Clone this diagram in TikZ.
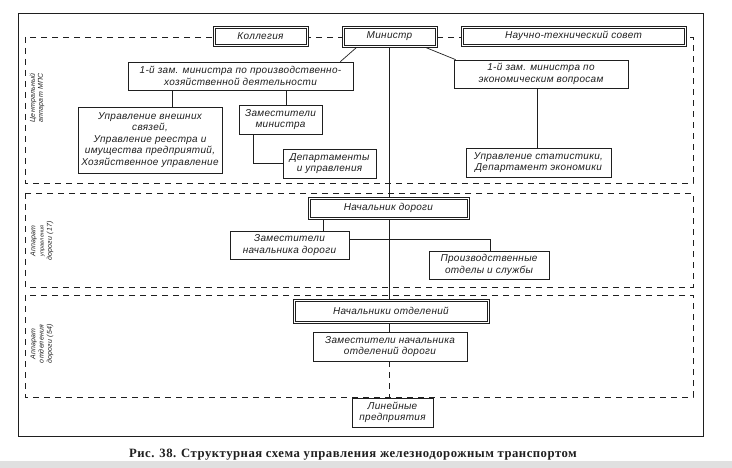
\documentclass[tikz,border=0pt]{standalone}
\usepackage{fontspec}
\setmainfont{Liberation Serif}
\newfontfamily\boxfont[LetterSpace=3]{Liberation Sans}
\newfontfamily\capfont[LetterSpace=4]{Liberation Serif}
\pgfdeclarelayer{bg}
\pgfsetlayers{bg,main}
\definecolor{ink}{gray}{0.12}
\begin{document}
\begin{tikzpicture}[x=1pt,y=-1pt,
 lbl/.style={font=\boxfont\itshape\fontsize{10}{11.5}\selectfont, align=center, inner sep=0pt, text=ink},
 box/.style={lbl, draw=ink, line width=0.7pt, fill=white, rectangle},
 dbox/.style={box},
 region/.style={draw=ink, line width=0.7pt, dash pattern=on 6pt off 5pt},
 link/.style={draw=ink, line width=0.7pt},
 side/.style={font=\boxfont\itshape\fontsize{7}{8.2}\selectfont, align=center, rotate=90, inner sep=0pt, text=ink},
]
\useasboundingbox (0,0) rectangle (732,468);

% boxes
\node[dbox, minimum width=95pt, minimum height=20pt] (koll) at (260.5,36.5) {Коллегия};
\node[dbox, minimum width=95pt, minimum height=21pt] (min) at (389.5,36.5) {Министр};
\node[dbox, minimum width=225pt, minimum height=20pt] (nts) at (573.5,36) {Научно-технический совет};
\node[box, minimum width=225pt, minimum height=28pt] (zam1) at (240.5,76) {1-й зам. министра по производственно-\\хозяйственной деятельности};
\node[box, minimum width=174pt, minimum height=28pt] (zam2) at (541,74) {1-й зам. министра по\\экономическим вопросам};
\node[box, minimum width=144pt, minimum height=66pt] (upr) at (150,140) {Управление внешних\\связей,\\Управление реестра и\\имущества предприятий,\\Хозяйственное управление};
\node[box, minimum width=83pt, minimum height=29pt] (zm) at (280.5,119.5) {Заместители\\министра};
\node[box, minimum width=93pt, minimum height=29pt] (dep) at (329.5,163.5) {Департаменты\\и управления};
\node[box, minimum width=145pt, minimum height=29pt] (stat) at (538.5,162.5) {Управление статистики,\\Департамент экономики};
\node[dbox, minimum width=161pt, minimum height=22pt] (nd) at (388.5,208) {Начальник дороги};
\node[box, minimum width=119pt, minimum height=28pt] (znd) at (289.5,245) {Заместители\\начальника дороги};
\node[box, minimum width=120pt, minimum height=28pt] (pr) at (489,265) {Производственные\\отделы и службы};
\node[dbox, minimum width=196pt, minimum height=24pt] (no) at (391,311) {Начальники отделений};
\node[box, minimum width=154pt, minimum height=29pt] (zno) at (390,346.5) {Заместители начальника\\отделений дороги};
\node[box, minimum width=81pt, minimum height=29pt] (lin) at (392.5,412.5) {Линейные\\предприятия};

% inner lines of the double-framed boxes
\foreach \n in {koll,min,nts,nd,no}
  \draw[link, line width=0.6pt] ([shift={(2.2pt,-2.2pt)}]\n.north west) rectangle ([shift={(-2.2pt,2.2pt)}]\n.south east);

% side labels
\node[side] (s1) at (37,98) {Центральный\\аппарат МПС};
\node[side] (s2) at (42,241) {Аппарат\\{\fontsize{5.5}{7}\selectfont управления}\\дороги (17)};
\node[side] (s3) at (42,344) {Аппарат\\отделения\\дороги (54)};

% caption
\node[font=\capfont\bfseries\fontsize{12.7}{14}\selectfont, text=ink, inner sep=0pt] (cap) at (353,455) {Рис. 38. Структурная схема управления железнодорожным транспортом};

\begin{pgfonlayer}{bg}
\fill[white] (0,0) rectangle (732,468);
\fill[black!12] (0,461) rectangle (732,468);
\draw[link] (18,13) rectangle (703,436);
\draw[region] (25,37) rectangle (693,183);
\draw[region] (25,193) rectangle (693,287);
\draw[region] (25,295) rectangle (693,397);
% connectors
\coordinate (mx) at (389,0);
\draw[link] (min.south -| mx) -- (nd.north -| mx);
\draw[link] (nd.south -| mx) -- (no.north -| mx);
\draw[link] (no.south -| mx) -- (zno.north -| mx);
\draw[link, dash pattern=on 6pt off 5pt] (zno.south -| mx) -- (lin.north -| mx);
\draw[link] ([xshift=15pt]min.south west) -- ([xshift=-13pt]zam1.north east);
\draw[link] ([xshift=-12pt]min.south east) -- ([xshift=2pt]zam2.north west);
\coordinate (c1) at (172,0);
\coordinate (c2) at (286,0);
\coordinate (c3) at (253,0);
\coordinate (c4) at (537,0);
\coordinate (c5) at (323,0);
\coordinate (c6) at (490,0);
\coordinate (h1) at (0,239);
\draw[link] (zam1.south -| c1) -- (upr.north -| c1);
\draw[link] (zam1.south -| c2) -- (zm.north -| c2);
\draw[link] (zm.south -| c3) |- (dep.west);
\draw[link] (zam2.south -| c4) -- (stat.north -| c4);
\draw[link] (nd.south -| c5) -- (znd.north -| c5);
\draw[link] (znd.east |- h1) -| (pr.north -| c6);
\end{pgfonlayer}
\end{tikzpicture}
\end{document}
